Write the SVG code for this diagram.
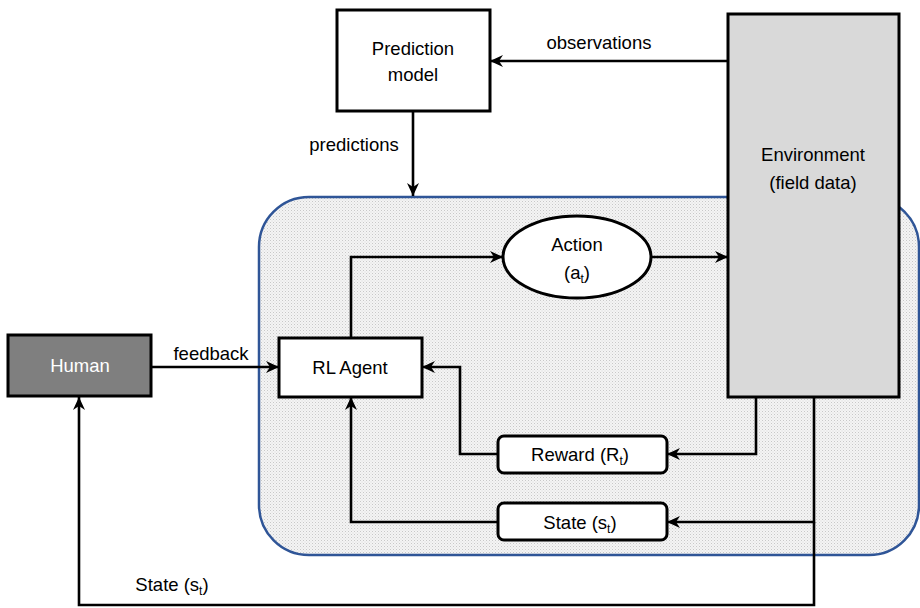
<svg xmlns="http://www.w3.org/2000/svg" width="920" height="608" viewBox="0 0 920 608">
<defs>
<pattern id="dots" width="3" height="3" patternUnits="userSpaceOnUse">
<rect width="3" height="3" fill="#f4f4f4"/>
<rect x="0" y="0" width="1" height="1" fill="#c8c8c8"/>
<rect x="1.5" y="1.5" width="1" height="1" fill="#d8d8d8"/>
</pattern>
<marker id="arr" markerUnits="userSpaceOnUse" markerWidth="14" markerHeight="14" viewBox="0 0 14 14" refX="13" refY="7" orient="auto">
<path d="M0,1 L13,7 L0,13 L4,7 Z" fill="#000"/>
</marker>
</defs>
<style>
text{font-family:"Liberation Sans",Arial,sans-serif;font-size:18.5px;fill:#000;text-anchor:middle}
.sub{font-size:12px}
.box{fill:#fff;stroke:#000;stroke-width:3}
.conn path{fill:none;stroke:#000;stroke-width:2.6;marker-end:url(#arr)}
.conn path.plain{marker-end:none}
</style>
<g id="container">
<rect x="259" y="197" width="660" height="358" rx="50" ry="50" fill="url(#dots)" stroke="#2f5597" stroke-width="2.5"/>
</g>
<g class="conn" id="connectors">
<path d="M728,61 H490"/>
<path d="M413,111 V196"/>
<path d="M151,367 H279"/>
<path d="M351,338 V257 H503"/>
<path d="M651,257 H728"/>
<path d="M756,397 V454 H667"/>
<path d="M498,454 H460 V367 H422"/>
<path d="M814,397 V522 H667"/>
<path d="M498,522 H351 V397"/>
<path d="M814,522 V605 H79 V397"/>
</g>
<g id="prediction-model">
<rect class="box" x="337" y="10" width="153" height="101"/>
<text x="413" y="55">Prediction</text>
<text x="413" y="81">model</text>
</g>
<g id="environment">
<rect x="728" y="14" width="171" height="383" fill="#d9d9d9" stroke="#000" stroke-width="3"/>
<text x="813" y="161">Environment</text>
<text x="813" y="189">(field data)</text>
</g>
<g id="action">
<ellipse cx="577" cy="257" rx="74" ry="41" fill="#fff" stroke="#000" stroke-width="3"/>
<text x="577" y="251">Action</text>
<text x="577" y="279">(a<tspan class="sub" dy="4">t</tspan><tspan dy="-4">)</tspan></text>
</g>
<g id="rl-agent">
<rect class="box" x="279" y="338" width="143" height="59"/>
<text x="350" y="374">RL Agent</text>
</g>
<g id="human">
<rect x="8" y="335" width="143" height="61" fill="#7f7f7f" stroke="#000" stroke-width="3"/>
<text x="80" y="372" style="fill:#fff">Human</text>
</g>
<g id="reward">
<rect class="box" x="498" y="436" width="169" height="37" rx="6" ry="6"/>
<text x="580" y="461">Reward (R<tspan class="sub" dy="4">t</tspan><tspan dy="-4">)</tspan></text>
</g>
<g id="state">
<rect class="box" x="498" y="503" width="169" height="37" rx="6" ry="6"/>
<text x="580" y="529">State (s<tspan class="sub" dy="4">t</tspan><tspan dy="-4">)</tspan></text>
</g>
<g id="labels">
<text x="599" y="49">observations</text>
<text x="354" y="151">predictions</text>
<text x="211" y="360">feedback</text>
<text x="172" y="591">State (s<tspan class="sub" dy="4">t</tspan><tspan dy="-4">)</tspan></text>
</g>
</svg>
